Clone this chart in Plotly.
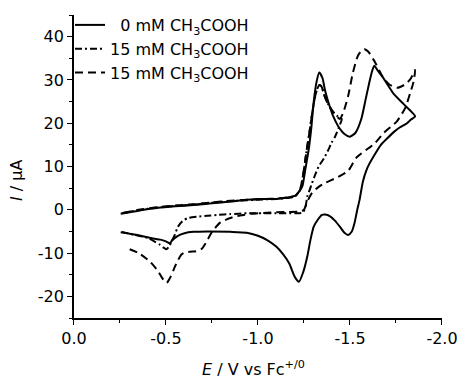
import plotly.graph_objects as go

# ---- data (E in V vs Fc+/0, I in microampere), listed in sweep order ----
e_0mM = [-0.254, -0.35, -0.45, -0.55, -0.65, -0.75, -0.85, -0.94, -1.03, -1.10, -1.17, -1.205, -1.225,
         -1.241, -1.258, -1.276, -1.29, -1.303, -1.318, -1.333, -1.35, -1.365, -1.383, -1.41, -1.436,
         -1.47, -1.499, -1.53, -1.561, -1.585, -1.605, -1.62, -1.632, -1.65, -1.685, -1.739, -1.792, -1.854,
         -1.83, -1.81, -1.77, -1.739, -1.70, -1.668, -1.632, -1.605, -1.588, -1.57, -1.552, -1.537, -1.525,
         -1.51, -1.49, -1.47, -1.445, -1.418, -1.392, -1.365, -1.348, -1.325, -1.303, -1.285, -1.268,
         -1.245, -1.223, -1.20, -1.17, -1.135, -1.099, -1.05, -1.0, -0.939, -0.85, -0.725, -0.65, -0.601,
         -0.565, -0.535, -0.521, -0.50, -0.47, -0.423, -0.35, -0.254]
i_0mM = [-0.9, -0.2, 0.4, 0.8, 1.1, 1.5, 1.9, 2.3, 2.5, 2.5, 2.9, 3.3, 4.3,
         5.4, 9.5, 14.0, 19.0, 25.0, 29.5, 31.7, 30.5, 27.5, 24.8, 21.5, 19.3,
         17.5, 16.9, 17.8, 20.9, 25.5, 29.4, 32.0, 33.3, 32.2, 30.2, 26.7, 24.4, 21.6,
         20.8, 20.0, 19.0, 18.0, 16.4, 15.0, 12.6, 10.6, 9.0, 6.5, 2.3, -0.5, -3.0,
         -5.0, -5.8, -5.3, -3.9, -2.5, -1.5, -1.1, -1.2, -2.3, -3.9, -7.0, -10.8,
         -14.5, -16.6, -15.5, -12.4, -10.2, -8.5, -7.0, -6.0, -5.3, -5.1, -5.0, -5.1, -5.4,
         -6.0, -7.0, -7.7, -7.3, -6.9, -6.6, -5.9, -5.2]

e_15a = [-0.26, -0.35, -0.45, -0.55, -0.65, -0.75, -0.85, -0.94, -1.03, -1.10, -1.17, -1.205, -1.228,
         -1.245, -1.262, -1.28, -1.297, -1.315, -1.333, -1.345, -1.36, -1.38, -1.405, -1.43, -1.455,
         -1.445, -1.42, -1.40, -1.383, -1.36, -1.33, -1.31, -1.294, -1.28, -1.268, -1.259, -1.245, -1.2,
         -1.1, -1.0, -0.939, -0.85, -0.78, -0.725, -0.67, -0.619, -0.59, -0.565, -0.548, -0.53, -0.515,
         -0.503, -0.485, -0.465, -0.441, -0.40, -0.33, -0.26]
i_15a = [-0.8, -0.1, 0.5, 0.9, 1.2, 1.6, 2.0, 2.2, 2.4, 2.5, 2.8, 3.2, 4.5,
         8.0, 13.0, 18.0, 23.0, 27.0, 28.8, 28.5, 26.5, 24.5, 22.8, 21.7, 21.0,
         19.6, 17.0, 15.5, 13.9, 12.0, 10.0, 8.0, 6.2, 4.5, 3.1, 0.8, -0.6, -0.8,
         -0.8, -0.8, -0.8, -1.0, -1.2, -1.4, -1.6, -1.9, -2.6, -3.9, -5.8, -7.4, -8.6,
         -9.1, -8.7, -8.0, -7.4, -6.5, -5.8, -5.1]

e_15b = [-0.27, -0.35, -0.45, -0.55, -0.65, -0.75, -0.85, -0.94, -1.03, -1.10, -1.17, -1.205, -1.228,
         -1.245, -1.262, -1.28, -1.297, -1.315, -1.333, -1.345, -1.36, -1.38, -1.405, -1.43, -1.445,
         -1.463, -1.49, -1.516, -1.543, -1.565, -1.579, -1.60, -1.632, -1.676, -1.712, -1.756, -1.801,
         -1.83, -1.854,
         -1.845, -1.828, -1.801, -1.756, -1.685, -1.632, -1.60, -1.534, -1.49, -1.436, -1.365, -1.33,
         -1.294, -1.268, -1.25, -1.232, -1.15, -1.05, -0.96, -0.921, -0.88, -0.85, -0.796, -0.752,
         -0.716, -0.695, -0.672, -0.628, -0.60, -0.583, -0.565, -0.548, -0.525, -0.503, -0.48, -0.459,
         -0.414, -0.352, -0.29]
i_15b = [-0.7, 0.0, 0.6, 1.0, 1.3, 1.7, 2.1, 2.3, 2.5, 2.6, 2.9, 3.3, 4.6,
         8.0, 13.0, 18.0, 23.0, 27.0, 28.8, 28.5, 26.5, 24.5, 22.8, 21.5, 21.0,
         22.4, 26.3, 31.7, 35.6, 36.9, 37.1, 36.5, 34.4, 30.9, 29.0, 28.2, 29.0,
         30.3, 32.3,
         29.5, 27.1, 23.6, 20.5, 17.8, 15.2, 14.2, 12.0, 9.0, 7.6, 6.2, 5.3,
         3.9, 1.9, 0.0, -0.4, -0.5, -0.7, -0.9, -1.2, -1.5, -1.9, -2.9, -5.0,
         -7.7, -9.0, -9.5, -9.7, -9.9, -10.4, -11.7, -13.2, -15.5, -16.9, -15.8, -14.3,
         -12.0, -10.0, -8.9]

legend_names = ["\u20070 mM CH<sub>3</sub>COOH", "15 mM CH<sub>3</sub>COOH", "15 mM CH<sub>3</sub>COOH"]
x_tickvals = [0.0, -0.5, -1.0, -1.5, -2.0]
x_ticktext = ["0.0", "-0.5", "-1.0", "-1.5", "-2.0"]
y_tickvals = [-20, -10, 0, 10, 20, 30, 40]
y_ticktext = ["-20", "-10", "0", "10", "20", "30", "40"]

FONT = "DejaVu Sans"

fig = go.Figure()
styles = [("solid", e_0mM, i_0mM), ("7px,3px,2px,3px", e_15a, i_15a), ("8px,5px", e_15b, i_15b)]
for name, (dash, xs, ys) in zip(legend_names, styles):
    fig.add_trace(go.Scatter(x=xs, y=ys, mode="lines", name=name,
                             line=dict(color="black", width=2, dash=dash, shape="spline", smoothing=0.6)))

# paper area: x 70..449 px (379 wide), y 8..318 px (310 tall); axes drawn in sub-domains
fig.update_layout(
    width=466, height=379,
    margin=dict(l=70, r=17, t=8, b=61),
    paper_bgcolor="white", plot_bgcolor="white",
    font=dict(family=FONT, size=16, color="black"),
    showlegend=True,
    legend=dict(x=0.0, y=1.0, xanchor="left", yanchor="top", bgcolor="rgba(0,0,0,0)",
                font=dict(family=FONT, size=16), tracegroupgap=0, itemwidth=30),
    xaxis=dict(domain=[4 / 379, 1.0], range=[0, -2.0], showline=True, linecolor="black",
               linewidth=1.5, showgrid=False,
               zeroline=False, ticks="outside", ticklen=5, tickwidth=1.2, tickcolor="black",
               tickmode="array", tickvals=x_tickvals, ticktext=x_ticktext,
               tickfont=dict(family=FONT, size=16),
               minor=dict(ticks="outside", ticklen=3, tickmode="linear", tick0=0, dtick=0.25,
                          tickcolor="black", tickwidth=1)),
    yaxis=dict(domain=[0.0, 303 / 310], range=[-25, 45], showline=True, linecolor="black",
               linewidth=1.5, showgrid=False,
               zeroline=False, ticks="outside", ticklen=5, tickwidth=1.2, tickcolor="black",
               tickmode="array", tickvals=y_tickvals, ticktext=y_ticktext,
               tickfont=dict(family=FONT, size=16),
               minor=dict(ticks="outside", ticklen=3, tickmode="linear", tick0=0, dtick=5,
                          tickcolor="black", tickwidth=1)),
    annotations=[
        dict(text="<i>E</i> / V vs Fc<sup>+/0</sup>", xref="paper", yref="paper", x=0.4934, y=-0.1613,
             xanchor="center", yanchor="middle", showarrow=False, font=dict(family=FONT, size=16)),
        dict(text="<i>I</i> / \u03bcA", xref="paper", yref="paper", x=-0.1425, y=0.4452,
             xanchor="center", yanchor="middle", textangle=-90, showarrow=False,
             font=dict(family=FONT, size=16)),
    ],
)

fig.write_html("out.html", config={"displayModeBar": False},
               post_script="document.body.style.margin='0';")
